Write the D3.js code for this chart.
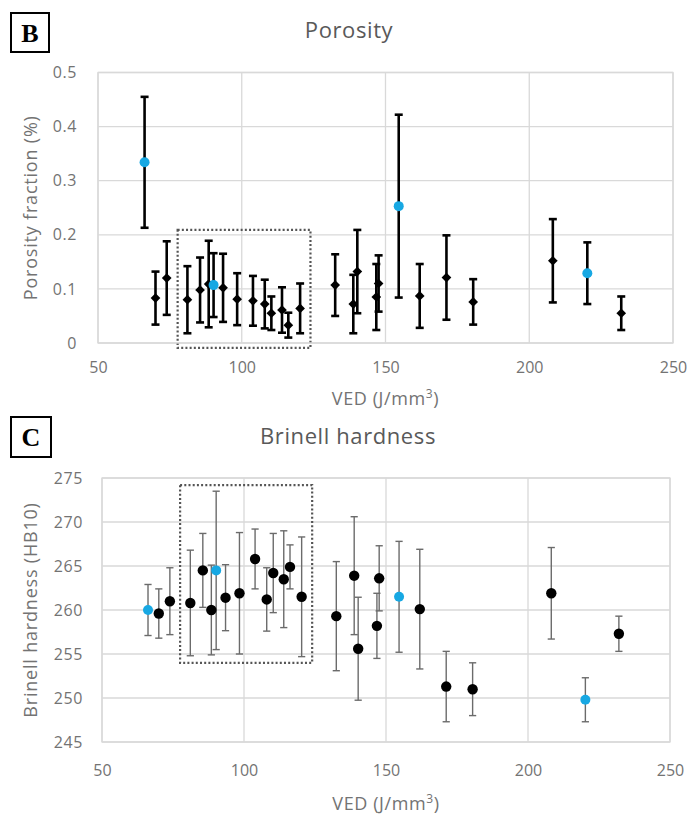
<!DOCTYPE html>
<html>
<head>
<meta charset="utf-8">
<script src="https://cdn.jsdelivr.net/npm/d3@7"></script>
<style>
  html, body { margin: 0; padding: 0; background: #ffffff; }
  svg { display: block; }
  text { font-family: "Open Sans", Lato, sans-serif; }
</style>
</head>
<body>
<svg id="chart" width="693" height="819"></svg>
<script>
// ---------------- DATA ----------------
const ved = [66.2, 70, 73.9, 81.1, 85.5, 88.5, 90.2, 93.5, 98.4, 103.9, 108, 110.3, 114, 116.2, 120.3,
             132.5, 138.8, 140.2, 146.8, 147.6, 154.6, 161.9, 171.2, 180.5, 208.2, 220.2, 232];
const highlighted = [0, 6, 20, 25];   // indices drawn in blue

const porosity = [0.334, 0.083, 0.120, 0.080, 0.098, 0.109, 0.107, 0.102, 0.081, 0.078, 0.072, 0.055, 0.061, 0.033, 0.064,
                  0.107, 0.072, 0.132, 0.085, 0.110, 0.253, 0.087, 0.121, 0.076, 0.152, 0.129, 0.055];
const porosityErr = [0.121, 0.049, 0.068, 0.062, 0.060, 0.080, 0.059, 0.063, 0.048, 0.046, 0.045, 0.031, 0.042, 0.023, 0.046,
                     0.057, 0.054, 0.077, 0.061, 0.052, 0.169, 0.059, 0.078, 0.042, 0.077, 0.057, 0.031];

const hardness = [260.0, 259.6, 261.0, 260.8, 264.5, 260.0, 264.5, 261.4, 261.9, 265.8, 261.2, 264.2, 263.5, 264.9, 261.5,
                  259.3, 263.9, 255.6, 258.2, 263.6, 261.5, 260.1, 251.3, 251.0, 261.9, 249.8, 257.3];
const hardnessErr = [2.9, 2.8, 3.8, 6.0, 4.2, 5.1, 9.0, 3.75, 6.9, 3.4, 3.6, 4.5, 5.5, 2.5, 6.8,
                     6.2, 6.7, 5.85, 3.7, 3.7, 6.3, 6.8, 4.0, 3.0, 5.2, 2.5, 2.0];

const xTicks = [50, 100, 150, 200, 250];
const porosityTicks = [0, 0.1, 0.2, 0.3, 0.4, 0.5];
const hardnessTicks = [245, 250, 255, 260, 265, 270, 275];

// highlighted region (data units): [vedMin, vedMax, yMin, yMax]
const porosityBox = [77.7, 123.9, -0.009, 0.209];
const hardnessBox = [77.5, 124.0, 254.0, 274.2];

// ---------------- STYLE ----------------
const BLUE = "#17a8e3";
const GRID = "#d9d9d9";
const TICK_COLOR = "#737373";
const TITLE_COLOR = "#595959";
const FONT = "'Open Sans', Lato, sans-serif";

const svg = d3.select("#chart");

function drawPanel(cfg) {
  const g = svg.append("g");
  const x = d3.scaleLinear().domain([50, 250]).range([cfg.left, cfg.right]);
  const y = d3.scaleLinear().domain(cfg.yDomain).range([cfg.bottom, cfg.top]);

  // gridlines
  g.append("g").selectAll("line.h").data(cfg.yTicks).join("line")
    .attr("x1", cfg.left).attr("x2", cfg.right)
    .attr("y1", d => y(d)).attr("y2", d => y(d))
    .attr("stroke", GRID).attr("stroke-width", 1.3);
  g.append("g").selectAll("line.v").data(xTicks).join("line")
    .attr("y1", cfg.top).attr("y2", cfg.bottom)
    .attr("x1", d => x(d)).attr("x2", d => x(d))
    .attr("stroke", GRID).attr("stroke-width", 1.3);

  // axes (labels only)
  const xAxis = g.append("g").attr("transform", `translate(0,${cfg.bottom})`)
    .call(d3.axisBottom(x).tickValues(xTicks).tickSize(0).tickPadding(cfg.xPad).tickFormat(d3.format("d")));
  xAxis.select(".domain").remove();
  xAxis.selectAll("text").attr("fill", TICK_COLOR).style("font-size", "16px").style("font-family", FONT);

  const yAxis = g.append("g").attr("transform", `translate(${cfg.left},0)`)
    .call(d3.axisLeft(y).tickValues(cfg.yTicks).tickSize(0).tickPadding(cfg.yPad).tickFormat(cfg.yFormat));
  yAxis.select(".domain").remove();
  yAxis.selectAll("text").attr("fill", TICK_COLOR).style("font-size", "16px").style("font-family", FONT)
    .style("letter-spacing", "0.6px");

  // dotted highlight box
  const b = cfg.box;
  g.append("rect")
    .attr("x", x(b[0])).attr("y", y(b[3]))
    .attr("width", x(b[1]) - x(b[0])).attr("height", y(b[2]) - y(b[3]))
    .attr("fill", "none").attr("stroke", "#555").attr("stroke-width", 2.2)
    .attr("stroke-dasharray", "2 2.2");

  const pts = ved.map((v, i) => ({ v, val: cfg.values[i], err: cfg.errors[i], hi: highlighted.includes(i) }));

  // error bars
  const eb = g.append("g").selectAll("g").data(pts).join("g");
  eb.append("line")
    .attr("x1", d => x(d.v)).attr("x2", d => x(d.v))
    .attr("y1", d => y(d.val + d.err)).attr("y2", d => y(d.val - d.err))
    .attr("stroke", cfg.errColor).attr("stroke-width", cfg.errWidth);
  [1, -1].forEach(s => {
    eb.append("line")
      .attr("x1", d => x(d.v) - cfg.cap).attr("x2", d => x(d.v) + cfg.cap)
      .attr("y1", d => y(d.val + s * d.err)).attr("y2", d => y(d.val + s * d.err))
      .attr("stroke", cfg.errColor).attr("stroke-width", cfg.errWidth);
  });

  // markers: black first, blue on top
  const black = pts.filter(d => !d.hi), blue = pts.filter(d => d.hi);
  if (cfg.diamond) {
    g.append("g").selectAll("path").data(black).join("path")
      .attr("d", d3.symbol().type(d3.symbolDiamond2).size(60))
      .attr("transform", d => `translate(${x(d.v)},${y(d.val)})`)
      .attr("fill", "#000");
  } else {
    g.append("g").selectAll("circle").data(black).join("circle")
      .attr("cx", d => x(d.v)).attr("cy", d => y(d.val)).attr("r", 5.2)
      .attr("fill", "#000");
  }
  g.append("g").selectAll("circle").data(blue).join("circle")
    .attr("cx", d => x(d.v)).attr("cy", d => y(d.val)).attr("r", 5)
    .attr("fill", BLUE);

  // plot border
  g.append("rect")
    .attr("x", cfg.left).attr("y", cfg.top)
    .attr("width", cfg.right - cfg.left).attr("height", cfg.bottom - cfg.top)
    .attr("fill", "none").attr("stroke", GRID).attr("stroke-width", 1.3);

  // chart title
  g.append("text").attr("x", cfg.titleX).attr("y", cfg.titleY)
    .attr("text-anchor", "middle").attr("fill", TITLE_COLOR)
    .style("font-size", "22px").style("letter-spacing", "0.6px").text(cfg.title);

  // x axis title
  const xt = g.append("text").attr("x", (cfg.left + cfg.right) / 2).attr("y", cfg.xTitleY)
    .attr("text-anchor", "middle").attr("fill", TICK_COLOR).style("font-size", "18px")
    .style("letter-spacing", "0.6px");
  xt.append("tspan").text("VED (J/mm");
  xt.append("tspan").attr("dy", -7).style("font-size", "12px").text("3");
  xt.append("tspan").attr("dy", 7).text(")");

  // y axis title
  g.append("text")
    .attr("transform", `translate(${cfg.yTitleX},${(cfg.top + cfg.bottom) / 2}) rotate(-90)`)
    .attr("text-anchor", "middle").attr("fill", TICK_COLOR).style("font-size", "18px")
    .style("letter-spacing", "0.8px")
    .text(cfg.yTitle);

  // panel letter
  g.append("rect").attr("x", cfg.letterBox[0]).attr("y", cfg.letterBox[1])
    .attr("width", cfg.letterBox[2]).attr("height", cfg.letterBox[3])
    .attr("fill", "#fff").attr("stroke", "#000").attr("stroke-width", 2);
  g.append("text").attr("x", cfg.letterBox[0] + cfg.letterBox[2] / 2).attr("y", cfg.letterBox[1] + cfg.letterBox[3] / 2 + 9)
    .attr("text-anchor", "middle").attr("fill", "#000")
    .style("font-family", "'Liberation Serif', 'DejaVu Serif', serif").style("font-weight", "bold").style("font-size", "26px")
    .text(cfg.letter);
}

drawPanel({
  left: 98, right: 673, top: 72.5, bottom: 343,
  yDomain: [0, 0.5], yTicks: porosityTicks, yFormat: d => d === 0 ? "0" : d3.format(".1f")(d),
  values: porosity, errors: porosityErr, box: porosityBox,
  errColor: "#000", errWidth: 2.6, cap: 4, diamond: true,
  title: "Porosity", titleX: 349, titleY: 38,
  xTitleY: 405, yTitleX: 37, yTitle: "Porosity fraction (%)",
  xPad: 19, yPad: 21,
  letter: "B", letterBox: [11, 13, 38, 39]
});

drawPanel({
  left: 102, right: 670, top: 478, bottom: 742,
  yDomain: [245, 275], yTicks: hardnessTicks, yFormat: d3.format("d"),
  values: hardness, errors: hardnessErr, box: hardnessBox,
  errColor: "#6b6b6b", errWidth: 1.4, cap: 3.6, diamond: false,
  title: "Brinell hardness", titleX: 348, titleY: 444,
  xTitleY: 810, yTitleX: 37, yTitle: "Brinell hardness (HB10)",
  xPad: 23, yPad: 19,
  letter: "C", letterBox: [11, 417, 40, 40]
});
</script>
</body>
</html>
